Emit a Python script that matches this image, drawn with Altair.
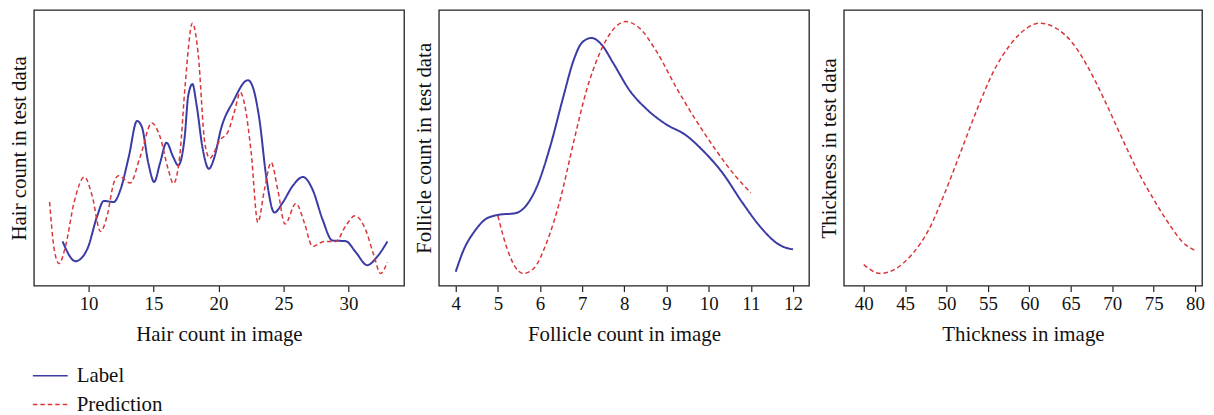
import altair as alt
import pandas as pd

series_names = ["Label", "Prediction"]
series_colors = ["#3b3ba6", "#d9363a"]

# Panel 1: hair count
hair_label_x = [8.0, 9.0, 9.9, 10.67, 11.17, 11.94, 12.45, 13.1, 13.73, 14.1, 14.6, 15.05, 15.5, 16.0, 16.5, 16.9, 17.4, 17.67, 18.0, 18.3, 18.8, 19.26, 19.7, 20.2, 21.1, 22.27, 22.65, 23.16, 23.67, 24.3, 24.94, 25.7, 26.5, 27.24, 28.0, 28.77, 29.8, 30.56, 31.45, 32.2, 33.0]
hair_label_y = [44.7, 24.7, 37, 70.7, 85.7, 84.7, 97, 130.7, 166.7, 160.7, 124, 105, 124, 144.7, 130.7, 121.7, 150.7, 192.3, 204, 184, 137.3, 118.3, 130.7, 159, 185.7, 208, 200.7, 167.3, 110.7, 74, 84, 100.7, 110, 97.3, 67.3, 45.7, 45, 34, 20.7, 29, 44.7]
hair_pred_x = [7.0, 7.35, 7.73, 8.24, 8.88, 9.69, 10.28, 10.92, 11.43, 11.94, 12.3, 13.2, 13.98, 14.87, 15.5, 16.14, 16.53, 17.04, 17.42, 18.0, 18.44, 18.95, 19.33, 20.1, 20.73, 21.25, 21.68, 22.0, 22.52, 23.03, 23.54, 24.05, 24.56, 25.12, 25.96, 26.6, 27.24, 28.13, 29.02, 29.8, 30.5, 31.3, 31.96, 32.47, 33.0]
hair_pred_y = [84.7, 37.3, 22.3, 40.7, 84, 110, 90.7, 54.7, 70.7, 104, 111.3, 104, 130.7, 164.7, 150.7, 117.3, 103.3, 134, 200.7, 265.7, 234, 144, 129, 147.3, 155.7, 177.3, 195.7, 184, 134, 64, 97.3, 124.7, 97.3, 62.3, 83.3, 64, 39.7, 44.7, 44.7, 60.7, 70.7, 57.3, 30.7, 12.3, 24]
hair_ticks = [10, 15, 20, 25, 30]

# Panel 2: follicle count
foll_label_x = [4.0, 4.2, 4.43, 4.71, 5.02, 5.41, 5.65, 5.93, 6.24, 6.55, 6.79, 6.99, 7.22, 7.46, 7.73, 8.13, 8.52, 8.99, 9.46, 9.85, 10.33, 10.8, 11.27, 11.66, 12.0]
foll_label_y = [14, 37.3, 54, 67.3, 71.7, 73.3, 80, 100.7, 140.7, 190.7, 227.3, 245.7, 250.7, 244, 225.7, 197.3, 179, 163.3, 152.3, 137.3, 114, 84, 57.3, 41.7, 36.7]
foll_pred_x = [5.0, 5.22, 5.41, 5.6, 5.85, 6.16, 6.48, 6.79, 7.1, 7.42, 7.73, 8.03, 8.36, 8.76, 9.23, 9.7, 10.17, 10.64, 11.0]
foll_pred_y = [70.7, 37.3, 19, 12.3, 17.3, 44, 87.3, 144, 197.3, 235.7, 259, 267.3, 260.7, 237.3, 200.7, 167.3, 137.3, 110.7, 94]
foll_ticks = [4, 5, 6, 7, 8, 9, 10, 11, 12]

# Panel 3: thickness
thick_pred_x = [40, 42, 43.9, 45.9, 47.9, 49.8, 51.8, 53.8, 55.7, 57.7, 59.7, 61.2, 63.2, 65.2, 67.1, 69.1, 71.1, 73.0, 75.0, 77.0, 78.5, 80]
thick_pred_y = [21.3, 12.3, 17.3, 32.3, 57.3, 94, 137.3, 180.7, 217.3, 244, 260.7, 265.7, 260.7, 245.7, 220.7, 187.3, 150.7, 117.3, 87.3, 60.7, 44, 35.7]
thick_ticks = [40, 45, 50, 55, 60, 65, 70, 75, 80]

FONT = "Liberation Serif"

legend = alt.Legend(title=None, symbolType="stroke", symbolSize=1225, symbolStrokeWidth=1.6,
                    labelFontSize=21, labelFont=FONT, labelColor="#111", labelOffset=8,
                    rowPadding=-1, padding=0, orient="none", legendX=-2, legendY=349)
color = alt.Color("series:N", scale=alt.Scale(domain=series_names, range=series_colors), legend=legend)
dash = alt.StrokeDash("series:N", scale=alt.Scale(domain=series_names, range=[[1, 0], [4.5, 3]]), legend=legend)


def frame(xs, ys, name):
    return pd.DataFrame({"x": xs, "y": ys, "series": name})


def panel(frames, xdomain, xticks, xtitle, ytitle, width):
    layers = []
    for df in frames:
        sw = 2.0 if df["series"].iloc[0] == "Label" else 1.5
        layers.append(
            alt.Chart(df).mark_line(interpolate="monotone", strokeWidth=sw).encode(
                x=alt.X("x:Q", scale=alt.Scale(domain=xdomain, nice=False, zero=False),
                        axis=alt.Axis(values=xticks, title=xtitle, format="d")),
                y=alt.Y("y:Q", scale=alt.Scale(domain=[0, 279], nice=False, zero=False),
                        axis=alt.Axis(title=ytitle, labels=False, ticks=False, domain=False,
                                      minExtent=0, maxExtent=0, titlePadding=4)),
                color=color,
                strokeDash=dash,
            )
        )
    return alt.layer(*layers).properties(width=width, height=277)


p1 = panel([frame(hair_label_x, hair_label_y, "Label"), frame(hair_pred_x, hair_pred_y, "Prediction")],
           [5.79, 34.28], hair_ticks, "Hair count in image", "Hair count in test data", 372)
p2 = panel([frame(foll_label_x, foll_label_y, "Label"), frame(foll_pred_x, foll_pred_y, "Prediction")],
           [3.6, 12.38], foll_ticks, "Follicle count in image", "Follicle count in test data", 372)
p3 = panel([frame(thick_pred_x, thick_pred_y, "Prediction")],
           [37.6, 80.84], thick_ticks, "Thickness in image", "Thickness in test data", 360)

chart = alt.hconcat(p1, p2, p3, spacing=8).properties(
    padding={"left": 0, "top": 0, "right": 0, "bottom": 0}
).configure_view(
    stroke="#222", strokeWidth=1.3
).configure_axis(
    labelFont=FONT, titleFont=FONT, labelFontSize=19, titleFontSize=21,
    titleFontWeight="normal", labelColor="#111", titleColor="#111",
    grid=False, domain=False, tickColor="#222", tickSize=6, tickWidth=1.2,
    labelPadding=3, titlePadding=10
)

chart.save("out.html", embed_options={"renderer": "svg", "actions": False})
